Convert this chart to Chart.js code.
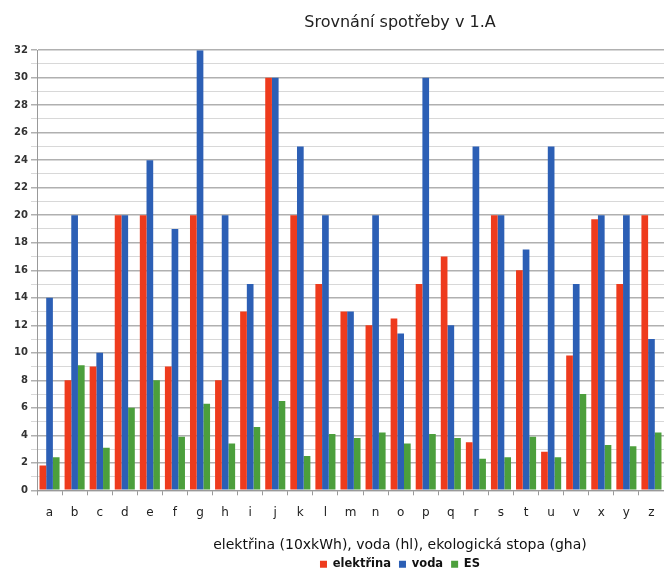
<!DOCTYPE html>
<html>
<head>
<meta charset="utf-8">
<script src="https://cdn.jsdelivr.net/npm/chart.js@4"></script>
<style>
html,body{margin:0;padding:0;background:#fff;overflow:hidden;}
#wrap{width:800px;height:580px;}
</style>
</head>
<body>
<div id="wrap"><canvas id="c"></canvas></div>
<script>
const labels = ["a","b","c","d","e","f","g","h","i","j","k","l","m","n","o","p","q","r","s","t","u","v","x","y","z"];
const elektrina = [1.8,8,9,20,20,9,20,8,13,30,20,15,13,12,12.5,15,17,3.5,20,16,2.8,9.8,19.7,15,20];
const voda = [14,20,10,20,24,19,32,20,15,30,25,20,13,20,11.4,30,12,25,20,17.5,25,15,20,20,11];
const es = [2.4,9.1,3.1,6,8,3.9,6.3,3.4,4.6,6.5,2.5,4.1,3.8,4.2,3.4,4.1,3.8,2.3,2.4,3.9,2.4,7,3.3,3.2,4.2];

const font = "'DejaVu Sans', sans-serif";

new Chart(document.getElementById("c"), {
  type: "bar",
  data: {
    labels,
    datasets: [
      {label: "elektřina", data: elektrina, backgroundColor: "#ee3b1d"},
      {label: "voda", data: voda, backgroundColor: "#2c5fb5"},
      {label: "ES", data: es, backgroundColor: "#4c9f3c"}
    ]
  },
  options: {
    responsive: true,
    maintainAspectRatio: false,
    animation: false,
    datasets: {bar: {categoryPercentage: 0.8, barPercentage: 1}},
    layout: {padding: 0},
    plugins: {
      title: {
        display: true, text: "Srovnání spotřeby v 1.A", color: "#222",
        font: {family: font, size: 16, weight: "normal"}, padding: {top: 13, bottom: 18}
      },
      legend: {
        position: "bottom",
        title: {display: true, text: "elektřina (10xkWh), voda (hl), ekologická stopa (gha)", color: "#111",
          font: {family: font, size: 14}, padding: {top: 9, bottom: -5}},
        labels: {boxWidth: 7, boxHeight: 7, padding: 8, color: "#111", font: {family: font, size: 11.5, weight: "bold"}}
      },
      tooltip: {enabled: false}
    },
    scales: {
      x: {
        grid: {drawOnChartArea: false, drawTicks: true, tickLength: 5, color: "#999", offset: true},
        border: {color: "#999"},
        ticks: {color: "#222", padding: 10, font: {family: font, size: 12}}
      },
      y: {
        min: 0, max: 32,
        afterFit: s => { s.width = 37; },
        grid: {
          color: c => c.tick.value % 2 === 0 ? "#b0b0b0" : "#d8d8d8",
          lineWidth: c => c.tick.value % 2 === 0 ? 1.5 : 1,
          tickLength: 6
        },
        border: {color: "#999"},
        ticks: {
          stepSize: 1, autoSkip: false, color: "#333", padding: 3,
          font: {family: font, size: 10, weight: "bold"},
          callback: v => v % 2 === 0 ? v : ""
        }
      },
      // empty right-hand strip: the reference is cropped at the plot's right edge
      spacer: {
        position: "right", min: 0, max: 1,
        afterFit: s => { s.width = 136; },
        grid: {display: false}, border: {display: false},
        ticks: {display: false}
      }
    }
  }
});
</script>
</body>
</html>
